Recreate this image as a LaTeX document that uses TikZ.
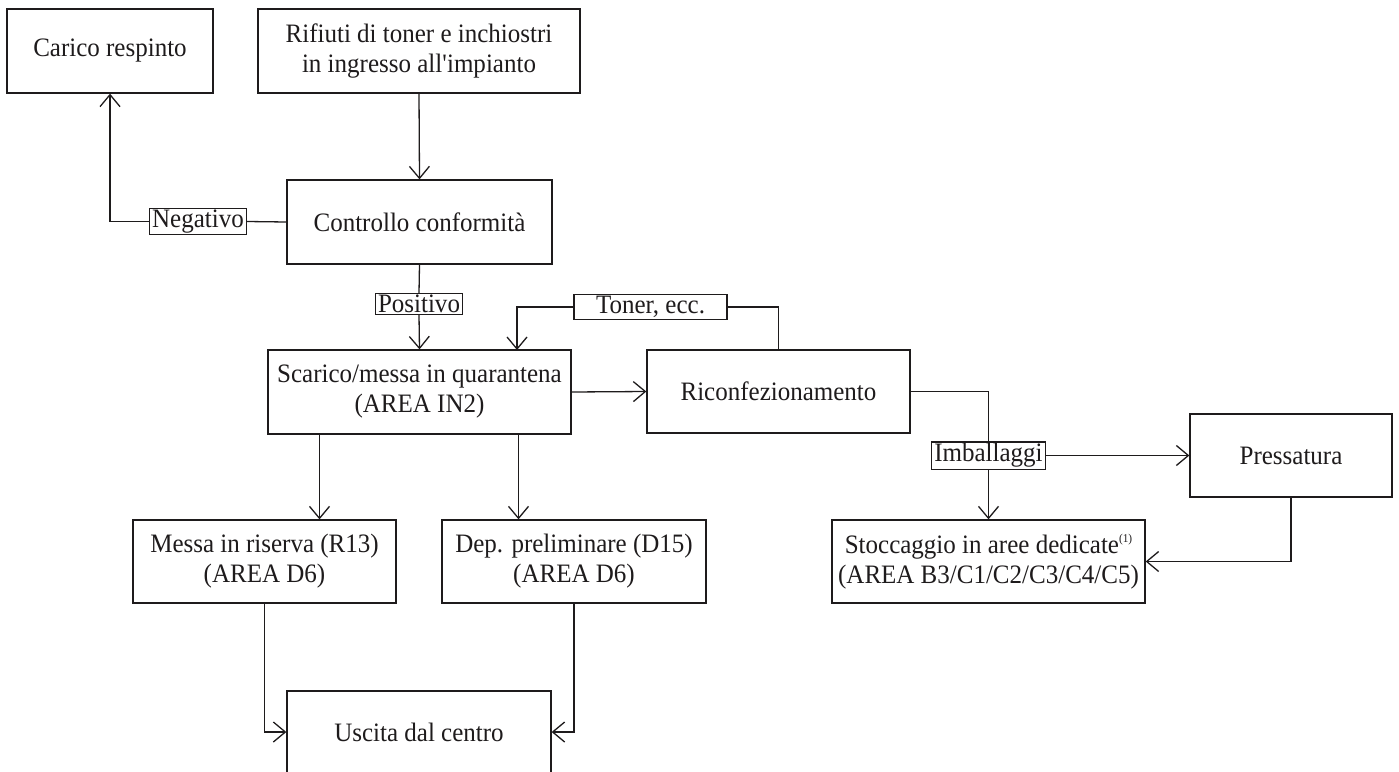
\documentclass[tikz,border=0pt]{standalone}
\usepackage{fontspec}
\setmainfont{Liberation Serif}[FakeStretch=0.94]
\usetikzlibrary{arrows.meta}
\definecolor{ink}{RGB}{30,27,28}
\newcommand{\notemark}[1]{\raisebox{10.5pt}{\fontsize{12}{12}\selectfont(#1)}}
\begin{document}
\begin{tikzpicture}[x=1pt,y=-1pt,
  every node/.style={font=\fontsize{26.6}{30}\selectfont, text=ink},
  box/.style={draw=ink, line width=1.3pt, fill=white, align=center, inner sep=0pt},
  lbl/.style={draw=ink, line width=1.2pt, fill=white, inner xsep=2.5pt, inner ysep=1.5pt},
  link/.style={draw=ink, line width=1.3pt},
  arr/.style={link, -{Straight Barb[length=12pt,width=20pt,line width=1.3pt]}}
]
\useasboundingbox (0,0) rectangle (1399,771);

% process boxes
\node[box, minimum width=206pt, minimum height=84pt] (carico) at (110,51) {Carico respinto};
\node[box, minimum width=322pt, minimum height=84pt] (rifiuti) at (419,51)
  {Rifiuti di toner e inchiostri\\ in ingresso all\textquotesingle impianto};
\node[box, minimum width=265pt, minimum height=84pt] (controllo) at (419.5,222) {Controllo conformità};
\node[box, minimum width=303pt, minimum height=84pt] (scarico) at (419.5,392)
  {Scarico/messa in quarantena\\(AREA IN2)};
\node[box, minimum width=263pt, minimum height=83pt] (riconf) at (778.5,391.5) {Riconfezionamento};
\node[box, minimum width=202pt, minimum height=83pt] (press) at (1291,455.5) {Pressatura};
\node[box, minimum width=313pt, minimum height=83pt] (stocc) at (988.5,561.5)
  {Stoccaggio in aree dedicate\notemark{1}\\(AREA B3/C1/C2/C3/C4/C5)};
\node[box, minimum width=263pt, minimum height=83pt] (messa) at (264.5,561.5)
  {Messa in riserva (R13)\\(AREA D6)};
\node[box, minimum width=264pt, minimum height=83pt] (dep) at (574,561.5)
  {Dep. preliminare (D15)\\(AREA D6)};
\node[box, minimum width=264pt, minimum height=82pt] (uscita) at (419,732) {Uscita dal centro};

% branch labels
\node[lbl] (neg) at (198,221.5) {Negativo};
\node[lbl] (pos) at (419,304) {Positivo};
\node[lbl, minimum width=153pt] (toner) at (650.5,307) {Toner, ecc.};
\node[lbl] (imb) at (988.5,455.5) {Imballaggi};

% free ends on box edges
\coordinate (tonerin) at (517,350);
\coordinate (s1) at (319.5,434);
\coordinate (s2) at (518.5,434);

% connectors
\draw[arr] (rifiuti.south) -- (controllo.north);
\draw[link] (controllo.west) -- (neg.east);
\draw[arr] (neg.west) -| (carico.south);
\draw[link] (controllo.south) -- (pos.north);
\draw[arr] (pos.south) -- (scarico.north);
\draw[arr] (scarico.east) -- (riconf.west);
\draw[link] (riconf.north) |- (toner.east);
\draw[arr] (toner.west) -| (tonerin);
\draw[link] (riconf.east) -| (imb.north);
\draw[arr] (imb.south) -- (stocc.north);
\draw[arr] (imb.east) -- (press.west);
\draw[arr] (press.south) |- (stocc.east);
\draw[arr] (s1) -- (s1 |- messa.north);
\draw[arr] (s2) -- (s2 |- dep.north);
\draw[arr] (messa.south) |- (uscita.west);
\draw[arr] (dep.south) |- (uscita.east);
\end{tikzpicture}
\end{document}
